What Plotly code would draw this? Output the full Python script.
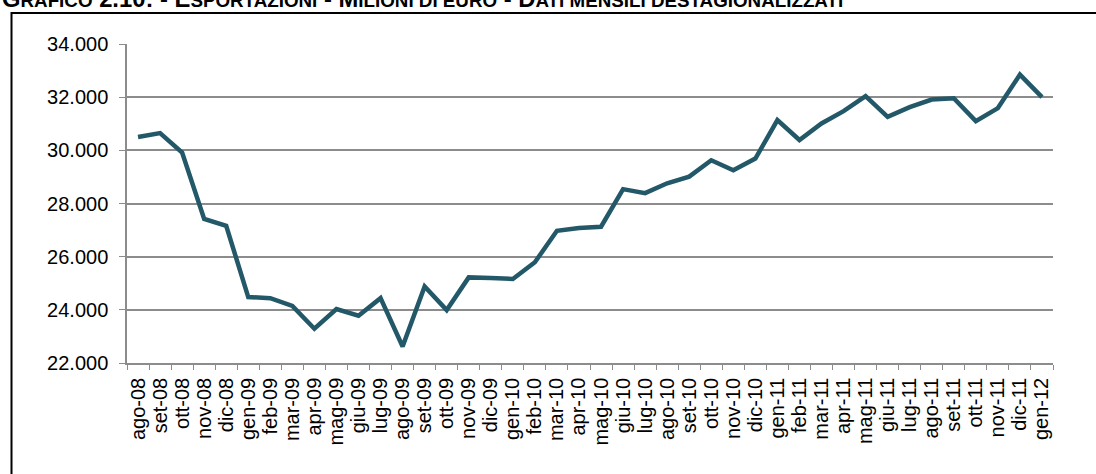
import plotly.graph_objects as go

# Mesi (ago-08 .. gen-12)
mesi = ["ago-08", "set-08", "ott-08", "nov-08", "dic-08",
        "gen-09", "feb-09", "mar-09", "apr-09", "mag-09", "giu-09",
        "lug-09", "ago-09", "set-09", "ott-09", "nov-09", "dic-09",
        "gen-10", "feb-10", "mar-10", "apr-10", "mag-10", "giu-10",
        "lug-10", "ago-10", "set-10", "ott-10", "nov-10", "dic-10",
        "gen-11", "feb-11", "mar-11", "apr-11", "mag-11", "giu-11",
        "lug-11", "ago-11", "set-11", "ott-11", "nov-11", "dic-11",
        "gen-12"]

# Esportazioni, milioni di euro (dati destagionalizzati)
esportazioni = [30500, 30650, 29920, 27420, 27160,
                24480, 24440, 24150, 23290, 24030, 23780,
                24440, 22620, 24880, 23990, 25220, 25200,
                25160, 25790, 26975, 27075, 27125, 28540,
                28390, 28760, 29010, 29625, 29250, 29690,
                31140, 30390, 31010, 31475, 32040, 31260,
                31625, 31910, 31960, 31100, 31590, 32850,
                32000]

y_ticks = [22000, 24000, 26000, 28000, 30000, 32000, 34000]

W, H = 1096, 474
L, R, T, B = 127, 43, 44, 111
pw, ph = W - L - R, H - T - B


def px(x):
    return (x - L) / pw


def py(y):
    return (H - B - y) / ph


fig = go.Figure()
fig.add_trace(go.Scatter(
    x=mesi, y=esportazioni, mode="lines",
    line=dict(color="#235868", width=4.5),
    showlegend=False, hoverinfo="x+y",
))

small = "<span style='font-size:18.8px'>"
titolo = ("<b>G" + small + "RAFICO</span> 2.10: - E" + small + "SPORTAZIONI</span> - M"
          + small + "ILIONI DI EURO</span> - D" + small
          + "ATI MENSILI DESTAGIONALIZZATI</span></b>")

fig.update_layout(
    width=W, height=H,
    margin=dict(l=L, r=R, t=T, b=B),
    paper_bgcolor="white", plot_bgcolor="white",
    separators=",.",
    font=dict(family="Liberation Sans, Arial, sans-serif", size=20, color="black"),
    xaxis=dict(
        type="category", range=[-0.5, len(mesi) - 0.5],
        tickmode="linear", dtick=1, automargin=False,
        tickson="boundaries", ticks="outside", ticklen=5, tickcolor="#8c8c8c",
        tickangle=-90, showgrid=False, ticklabelstandoff=5,
        showline=True, linecolor="#8c8c8c", linewidth=1.5,
        tickfont=dict(size=20),
    ),
    yaxis=dict(
        range=[22000, 34000], tickvals=y_ticks, tickformat=",d",
        automargin=False, ticklabelstandoff=7,
        ticks="outside", ticklen=6, tickcolor="#8c8c8c",
        showgrid=True, gridcolor="#8c8c8c", gridwidth=1.5,
        showline=True, linecolor="#8c8c8c", linewidth=1.5,
        zeroline=False, tickfont=dict(size=20),
    ),
    shapes=[dict(
        type="rect", xref="paper", yref="paper",
        x0=px(11.5), x1=px(1110), y0=py(490), y1=py(13),
        line=dict(color="black", width=2), fillcolor="rgba(0,0,0,0)",
        layer="below",
    )],
    annotations=[dict(
        text=titolo, xref="paper", yref="paper",
        x=px(0), y=py(14), xanchor="left", yanchor="bottom",
        showarrow=False, font=dict(size=23.8, color="black"),
    )],
)

fig.write_html("out.html", config={"displayModeBar": False},
               post_script="document.body.style.margin='0px';")
